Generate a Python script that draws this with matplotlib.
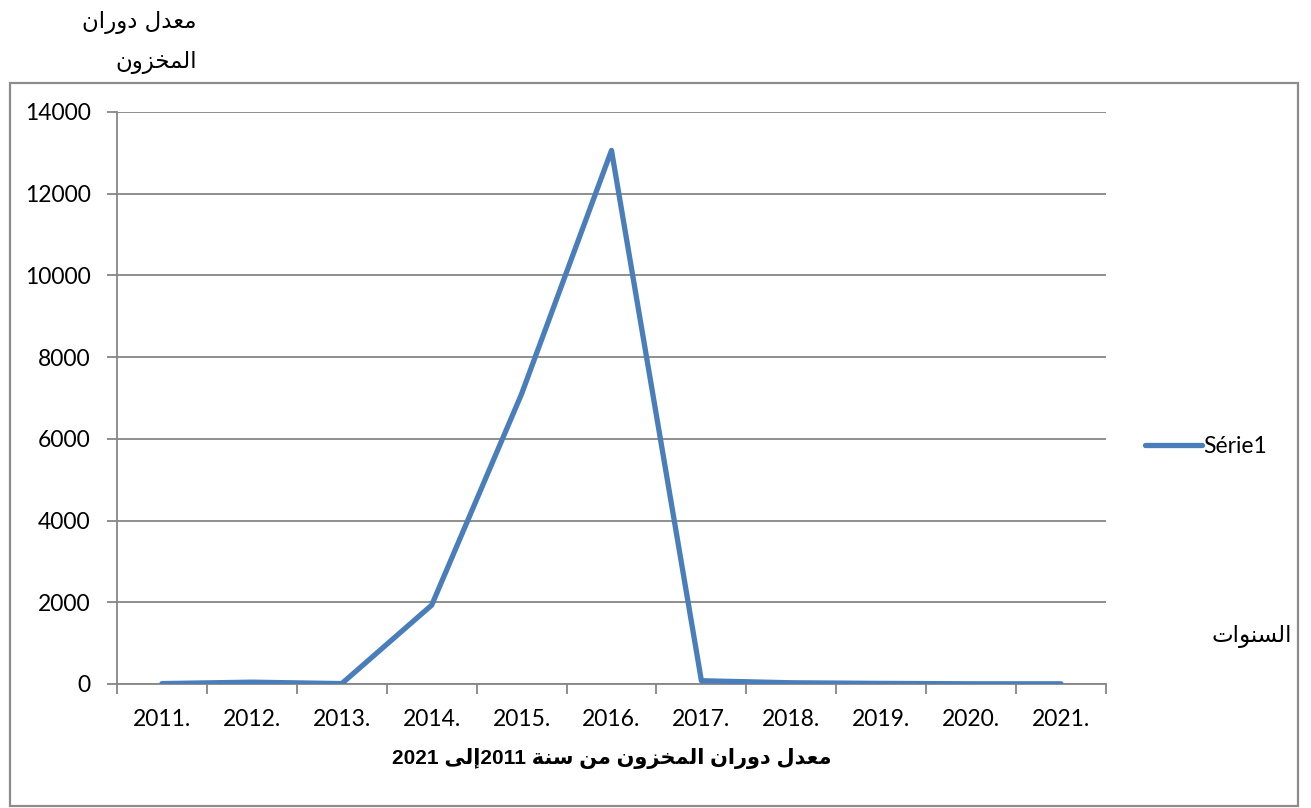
import matplotlib
matplotlib.use("Agg")
import matplotlib.pyplot as plt
from matplotlib.patches import Rectangle
from matplotlib.ticker import FixedLocator, NullFormatter

# ---------------- data ----------------
years = ["2011.", "2012.", "2013.", "2014.", "2015.", "2016.",
         "2017.", "2018.", "2019.", "2020.", "2021."]
values = [10, 45, 10, 1930, 7100, 13060, 80, 30, 15, 5, 5]
yticks = [0, 2000, 4000, 6000, 8000, 10000, 12000, 14000]
series_name = "Série1"
ylabel_lines = ["معدل دوران", "المخزون"]
xlabel_text = "معدل دوران المخزون من سنة 2011إلى 2021"
side_label = "السنوات"

# ---------------- minimal Arabic shaping ----------------
# letter: (isolated, final, initial, medial); None for right-joining only
FORMS = {
    "ا": (0xFE8D, 0xFE8E, None, None),
    "إ": (0xFE87, 0xFE88, None, None),
    "ة": (0xFE93, 0xFE94, None, None),
    "ت": (0xFE95, 0xFE96, 0xFE97, 0xFE98),
    "خ": (0xFEA5, 0xFEA6, 0xFEA7, 0xFEA8),
    "د": (0xFEA9, 0xFEAA, None, None),
    "ر": (0xFEAD, 0xFEAE, None, None),
    "ز": (0xFEAF, 0xFEB0, None, None),
    "س": (0xFEB1, 0xFEB2, 0xFEB3, 0xFEB4),
    "ع": (0xFEC9, 0xFECA, 0xFECB, 0xFECC),
    "ل": (0xFEDD, 0xFEDE, 0xFEDF, 0xFEE0),
    "م": (0xFEE1, 0xFEE2, 0xFEE3, 0xFEE4),
    "ن": (0xFEE5, 0xFEE6, 0xFEE7, 0xFEE8),
    "و": (0xFEED, 0xFEEE, None, None),
    "ى": (0xFEEF, 0xFEF0, None, None),
}


def dual(c):
    return c in FORMS and FORMS[c][2] is not None


def shape(text):
    out = []
    n = len(text)
    for i, c in enumerate(text):
        if c not in FORMS:
            out.append(c)
            continue
        prev_j = i > 0 and dual(text[i - 1])
        next_j = dual(c) and i + 1 < n and text[i + 1] in FORMS
        f = FORMS[c]
        if prev_j and next_j:
            out.append(chr(f[3]))
        elif prev_j:
            out.append(chr(f[1]))
        elif next_j:
            out.append(chr(f[2]))
        else:
            out.append(chr(f[0]))
    return "".join(out)


def visual(text):
    s = shape(text)
    runs = []
    cur = ""
    cur_digit = None
    for ch in s:
        d = ch.isdigit()
        if cur_digit is None or d == cur_digit:
            cur += ch
        else:
            runs.append((cur, cur_digit))
            cur = ch
        cur_digit = d
    if cur:
        runs.append((cur, cur_digit))
    runs.reverse()
    return "".join(r if dg else r[::-1] for r, dg in runs)


# ---------------- figure ----------------
W, H = 1311, 808
fig = plt.figure(figsize=(W / 100, H / 100), dpi=100)
fig.patch.set_facecolor("white")

fig.patches.append(Rectangle((9.5 / W, 1 - 806 / H), (1298 - 9.5) / W, (806 - 82.5) / H,
                             transform=fig.transFigure, fill=False,
                             edgecolor="#8c8c8c", linewidth=1.6, zorder=0))

ax = fig.add_axes([117 / W, 1 - 684 / H, (1106 - 117) / W, (684 - 112) / H])

x = list(range(len(years)))
ax.plot(x, values, color="#4A7EBB", linewidth=3.8, solid_capstyle="round",
        solid_joinstyle="round", label=series_name, zorder=3)

ax.set_xlim(-0.5, len(years) - 0.5)
ax.set_ylim(0, 14000)

gray = "#868686"
ax.set_yticks(yticks)
ax.set_yticklabels([str(v) for v in yticks], fontfamily="Lato", fontsize=16.5)
ax.yaxis.grid(True, color=gray, linewidth=1.3)
ax.set_axisbelow(True)

ax.xaxis.set_major_locator(FixedLocator([i - 0.5 for i in range(len(years) + 1)]))
ax.xaxis.set_major_formatter(NullFormatter())
ax.xaxis.set_minor_locator(FixedLocator(x))
ax.set_xticklabels(years, minor=True, fontfamily="Lato", fontsize=16.5)
ax.tick_params(axis="x", which="major", length=7, width=1.3, color=gray, direction="out")
ax.tick_params(axis="x", which="minor", length=0, pad=18)
ax.tick_params(axis="y", length=7, width=1.3, color=gray, pad=12)

for s in ["top", "right"]:
    ax.spines[s].set_visible(False)
for s in ["left", "bottom"]:
    ax.spines[s].set_color(gray)
    ax.spines[s].set_linewidth(1.3)

ax.set_xlabel(visual(xlabel_text), fontsize=15, fontweight="bold",
              family=["Liberation Sans", "DejaVu Sans"], labelpad=13)

leg = ax.legend(loc="center left", bbox_to_anchor=(1.03, 0.415), frameon=False,
                prop={"family": "Lato", "size": 16.5}, handlelength=2.5,
                handletextpad=0.05, borderaxespad=0)

fig.text(197 / W, 1 - 23 / H, visual(ylabel_lines[0]), ha="right", va="center",
         fontsize=16.5, family="DejaVu Sans")
fig.text(197 / W, 1 - 63 / H, visual(ylabel_lines[1]), ha="right", va="center",
         fontsize=16.5, family="DejaVu Sans")
fig.text(1292 / W, 1 - 637 / H, visual(side_label), ha="right", va="center",
         fontsize=16.5, family="DejaVu Sans")

fig.savefig("out.png", dpi=100, facecolor="white")
